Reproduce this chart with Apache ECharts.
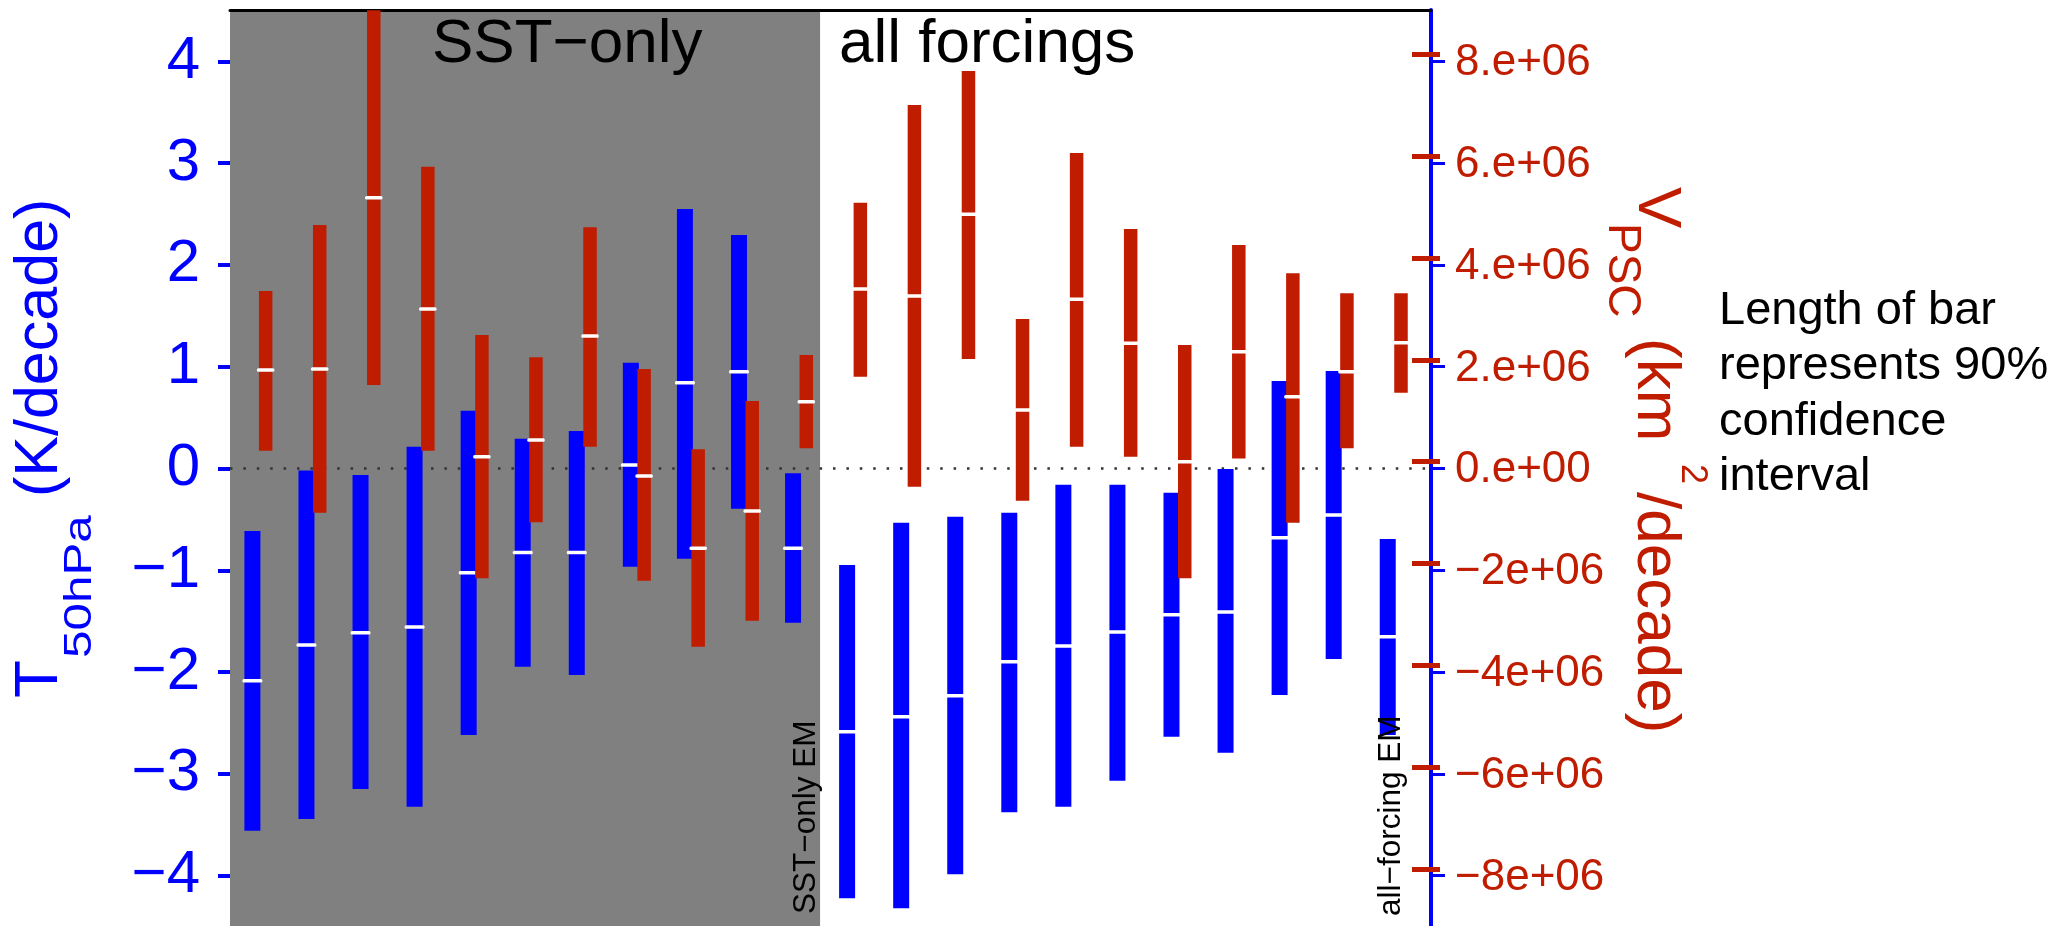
<!DOCTYPE html>
<html>
<head>
<meta charset="utf-8">
<script src="https://cdn.jsdelivr.net/npm/echarts@6/dist/echarts.min.js"></script>
<style>
  html, body { margin: 0; padding: 0; background: #ffffff; }
  #chart { width: 2068px; height: 926px; }
</style>
</head>
<body>
<div id="chart"></div>
<script>
// Runs 1-11: SST-only experiments (11 = ensemble mean); runs 12-22: all-forcing experiments (22 = ensemble mean)
const runs = [1, 2, 3, 4, 5, 6, 7, 8, 9, 10, 11, 12, 13, 14, 15, 16, 17, 18, 19, 20, 21, 22];

// 50 hPa temperature trend (K/decade): lower bound, central estimate, upper bound of the 90% interval
const tempLow  = [-3.558, -3.443, -3.148, -3.322, -2.618, -1.947, -2.029, -0.965, -0.886, -0.395, -1.515,
                  -4.222, -4.320, -3.986, -3.377, -3.322, -3.067, -2.635, -2.792, -2.225, -1.871, -2.618];
const tempMid  = [-2.084, -1.734, -1.613, -1.557, -1.023, -0.824, -0.824,  0.034,  0.843,  0.951, -0.784,
                  -2.585, -2.438, -2.232, -1.898, -1.744, -1.606, -1.436, -1.410, -0.680, -0.457, -1.652];
const tempHigh = [-0.614, -0.020, -0.064,  0.214,  0.568,  0.293,  0.368,  1.039,  2.549,  2.294, -0.047,
                  -0.948, -0.532, -0.473, -0.434, -0.159, -0.159, -0.238, -0.005,  0.860,  0.958, -0.693];

// PSC volume trend (km^2/decade): lower bound, central estimate, upper bound of the 90% interval
const vpscLow  = [0.216e6, -1.002e6, 1.507e6, 0.216e6, -2.291e6, -1.191e6, 0.295e6, -2.338e6, -3.635e6, -3.124e6, 0.263e6,
                  1.670e6, -0.491e6, 2.018e6, -0.766e6, 0.295e6, 0.098e6, -2.291e6, 0.066e6, -1.198e6, 0.263e6, 1.356e6];
const vpscMid  = [1.802e6, 1.821e6, 5.187e6, 3.000e6, 0.098e6, 0.426e6, 2.470e6, -0.281e6, -1.701e6, -0.969e6, 1.179e6,
                  3.393e6, 3.255e6, 4.860e6, 1.016e6, 3.190e6, 2.326e6, 0.000e6, 2.161e6, 1.277e6, 1.768e6, 2.338e6];
const vpscHigh = [3.354e6, 4.650e6, 8.870e6, 5.796e6, 2.489e6, 2.051e6, 4.605e6, 1.821e6, 0.244e6, 1.193e6, 2.096e6,
                  5.088e6, 7.008e6, 7.676e6, 2.804e6, 6.065e6, 4.572e6, 2.293e6, 4.257e6, 3.701e6, 3.308e6, 3.308e6];

// Axis ticks and their printed labels
const tempTicks = [-4, -3, -2, -1, 0, 1, 2, 3, 4];
const tempTickLabels = ['\u22124', '\u22123', '\u22122', '\u22121', '0', '1', '2', '3', '4'];
const vpscTicks = [-8e6, -6e6, -4e6, -2e6, 0, 2e6, 4e6, 6e6, 8e6];
const vpscTickLabels = ['\u22128e+06', '\u22126e+06', '\u22124e+06', '\u22122e+06', '0.e+00', '2.e+06', '4.e+06', '6.e+06', '8.e+06'];

// Axis titles, split into base symbol, subscript and unit parts
const tempTitle = ['T', '50hPa', '(K/decade)'];
const vpscTitle = ['V', 'PSC', '(km', '2', '/decade)'];

// Text annotations
const panelTitles = ['SST\u2212only', 'all forcings'];
const meanLabels = ['SST\u2212only EM', 'all\u2212forcing EM'];
const noteText = 'Length of bar\nrepresents 90%\nconfidence\ninterval';

// ---- styling / layout ----
const FONT = '"Liberation Sans", Arial, Helvetica, sans-serif';
const BLUE = '#0000ff';
const RED = '#c01c00';
const GREY = '#808080';
const X_MIN = 0.5856, X_MAX = 22.80;          // run axis extent
const T_MIN = -4.494, T_MAX = 4.504;          // temperature axis extent
const V_MIN = -9.12e6, V_MAX = 8.874e6;       // PSC volume axis extent
const PANEL_END = 11.5;                       // boundary between the two experiment groups
const RED_SHIFT = 0.245;                      // PSC bar sits just right of the temperature bar
const MID = 0.33;                             // baseline-to-middle distance, in em

const tempRows = runs.map((r, i) => [r, tempLow[i], tempMid[i], tempHigh[i]]);
const vpscRows = runs.map((r, i) => [r + RED_SHIFT, vpscLow[i], vpscMid[i], vpscHigh[i]]);

function intervalBar(width, color) {
  return function (params, api) {
    const x = api.value(0);
    const lo = api.coord([x, api.value(1)]);
    const md = api.coord([x, api.value(2)]);
    const hi = api.coord([x, api.value(3)]);
    return {
      type: 'group',
      children: [
        { type: 'rect', shape: { x: hi[0] - width / 2, y: hi[1], width: width, height: lo[1] - hi[1] },
          style: { fill: color } },
        { type: 'rect', shape: { x: md[0] - width / 2 - 2, y: md[1] - 1.75, width: width + 4, height: 3.5, r: 1.5 },
          style: { fill: '#ffffff' } }
      ]
    };
  };
}

// One piece of a rotated axis title: text starts at `start` (along the axis) with its baseline at `base`
function titlePiece(text, size, base, start, up, color, stretch) {
  return {
    type: 'text', z: 10,
    x: up ? base - MID * size : base + MID * size,
    y: start,
    rotation: up ? Math.PI / 2 : -Math.PI / 2,
    scaleX: stretch || 1,
    style: { text: text, font: size + 'px ' + FONT, fill: color, align: 'left', verticalAlign: 'middle' }
  };
}

const titleGraphics = [
  // left title reads upward
  titlePiece(tempTitle[0], 62, 60, 698, true, BLUE),
  titlePiece(tempTitle[1], 38, 93, 658, true, BLUE, 1.3),
  titlePiece(tempTitle[2], 61, 60, 497, true, BLUE),
  // right title reads downward
  titlePiece(vpscTitle[0], 62, 1636, 187, false, RED),
  titlePiece(vpscTitle[1], 46, 1607, 223, false, RED),
  titlePiece(vpscTitle[2], 62, 1635, 338, false, RED),
  titlePiece(vpscTitle[3], 36, 1680, 464, false, RED),
  titlePiece(vpscTitle[4], 62, 1635, 492, false, RED)
];

const chart = echarts.init(document.getElementById('chart'), null, { renderer: 'canvas' });

chart.setOption({
  animation: false,
  backgroundColor: '#ffffff',
  grid: { left: 230, right: 637, top: 10, bottom: 0, containLabel: false },
  xAxis: {
    type: 'value', position: 'top', min: X_MIN, max: X_MAX,
    axisLine: { show: true, onZero: false, lineStyle: { color: '#000', width: 3 } },
    axisTick: { show: false }, axisLabel: { show: false }, splitLine: { show: false }
  },
  yAxis: [
    {
      type: 'value', position: 'left', min: T_MIN, max: T_MAX,
      axisLine: { show: false, onZero: false },
      axisTick: { show: true, customValues: tempTicks, length: 12, lineStyle: { color: BLUE, width: 4 } },
      axisLabel: {
        customValues: tempTicks, color: BLUE, fontSize: 60, fontFamily: FONT, margin: 30,
        formatter: v => tempTickLabels[tempTicks.indexOf(v)]
      },
      splitLine: { show: false }
    },
    {
      type: 'value', position: 'right', min: V_MIN, max: V_MAX,
      axisLine: { show: true, onZero: false, lineStyle: { color: BLUE, width: 4 } },
      axisTick: { show: true, customValues: vpscTicks, length: 9, lineStyle: { color: RED, width: 5 } },
      axisLabel: {
        customValues: vpscTicks, color: RED, fontSize: 44, fontFamily: FONT, margin: 24,
        verticalAlign: 'top', lineHeight: 17,
        formatter: v => vpscTickLabels[vpscTicks.indexOf(v)]
      },
      splitLine: { show: false }
    },
    {
      type: 'value', position: 'right', min: V_MIN, max: V_MAX,
      axisLine: { show: false, onZero: false },
      axisTick: { show: true, inside: true, customValues: vpscTicks, length: 19, lineStyle: { color: RED, width: 5 } },
      axisLabel: { show: false }, splitLine: { show: false }
    },
    {
      type: 'value', position: 'right', min: T_MIN, max: T_MAX,
      axisLine: { show: false, onZero: false },
      axisTick: { show: true, customValues: tempTicks, length: 14, lineStyle: { color: BLUE, width: 3 } },
      axisLabel: { show: false }, splitLine: { show: false }
    }
  ],
  series: [
    {
      name: 'panel', type: 'custom', yAxisIndex: 0, silent: true, z: 0,
      data: [[PANEL_END, 0]],
      encode: { x: 0, y: 1 },
      renderItem(params, api) {
        const cs = params.coordSys;
        const xEnd = api.coord([api.value(0), 0])[0];
        const yZero = api.coord([X_MIN, api.value(1)])[1];
        return {
          type: 'group',
          children: [
            { type: 'rect', shape: { x: cs.x, y: cs.y, width: xEnd - cs.x, height: cs.height },
              style: { fill: GREY } },
            { type: 'line', shape: { x1: cs.x, y1: yZero, x2: cs.x + cs.width, y2: yZero },
              style: { stroke: '#333333', lineWidth: 2.5, lineDash: [2.5, 10.9] } }
          ]
        };
      }
    },
    {
      name: 'T50hPa trend', type: 'custom', yAxisIndex: 0, z: 2, clip: true,
      data: tempRows, encode: { x: 0, y: [1, 2, 3] },
      renderItem: intervalBar(16, BLUE)
    },
    {
      name: 'VPSC trend', type: 'custom', yAxisIndex: 1, z: 3, clip: true,
      data: vpscRows, encode: { x: 0, y: [1, 2, 3] },
      renderItem: intervalBar(13.5, RED)
    }
  ],
  graphic: titleGraphics.concat([
    { type: 'text', left: 432, top: 14, z: 10,
      style: { text: panelTitles[0], font: '62px ' + FONT, fill: '#000' } },
    { type: 'text', left: 839, top: 14, z: 10,
      style: { text: panelTitles[1], font: '62px ' + FONT, fill: '#000' } },
    { type: 'text', x: 806, y: 914, rotation: Math.PI / 2, z: 10,
      style: { text: meanLabels[0], font: '31.5px ' + FONT, fill: '#000', align: 'left', verticalAlign: 'middle' } },
    { type: 'text', x: 1391, y: 916, rotation: Math.PI / 2, z: 10,
      style: { text: meanLabels[1], font: '31.5px ' + FONT, fill: '#000', align: 'left', verticalAlign: 'middle' } },
    { type: 'text', x: 1719, y: 283, z: 10,
      style: { text: noteText, font: '47px ' + FONT, fill: '#000', lineHeight: 55.5, align: 'left', verticalAlign: 'top' } }
  ])
});
</script>
</body>
</html>
